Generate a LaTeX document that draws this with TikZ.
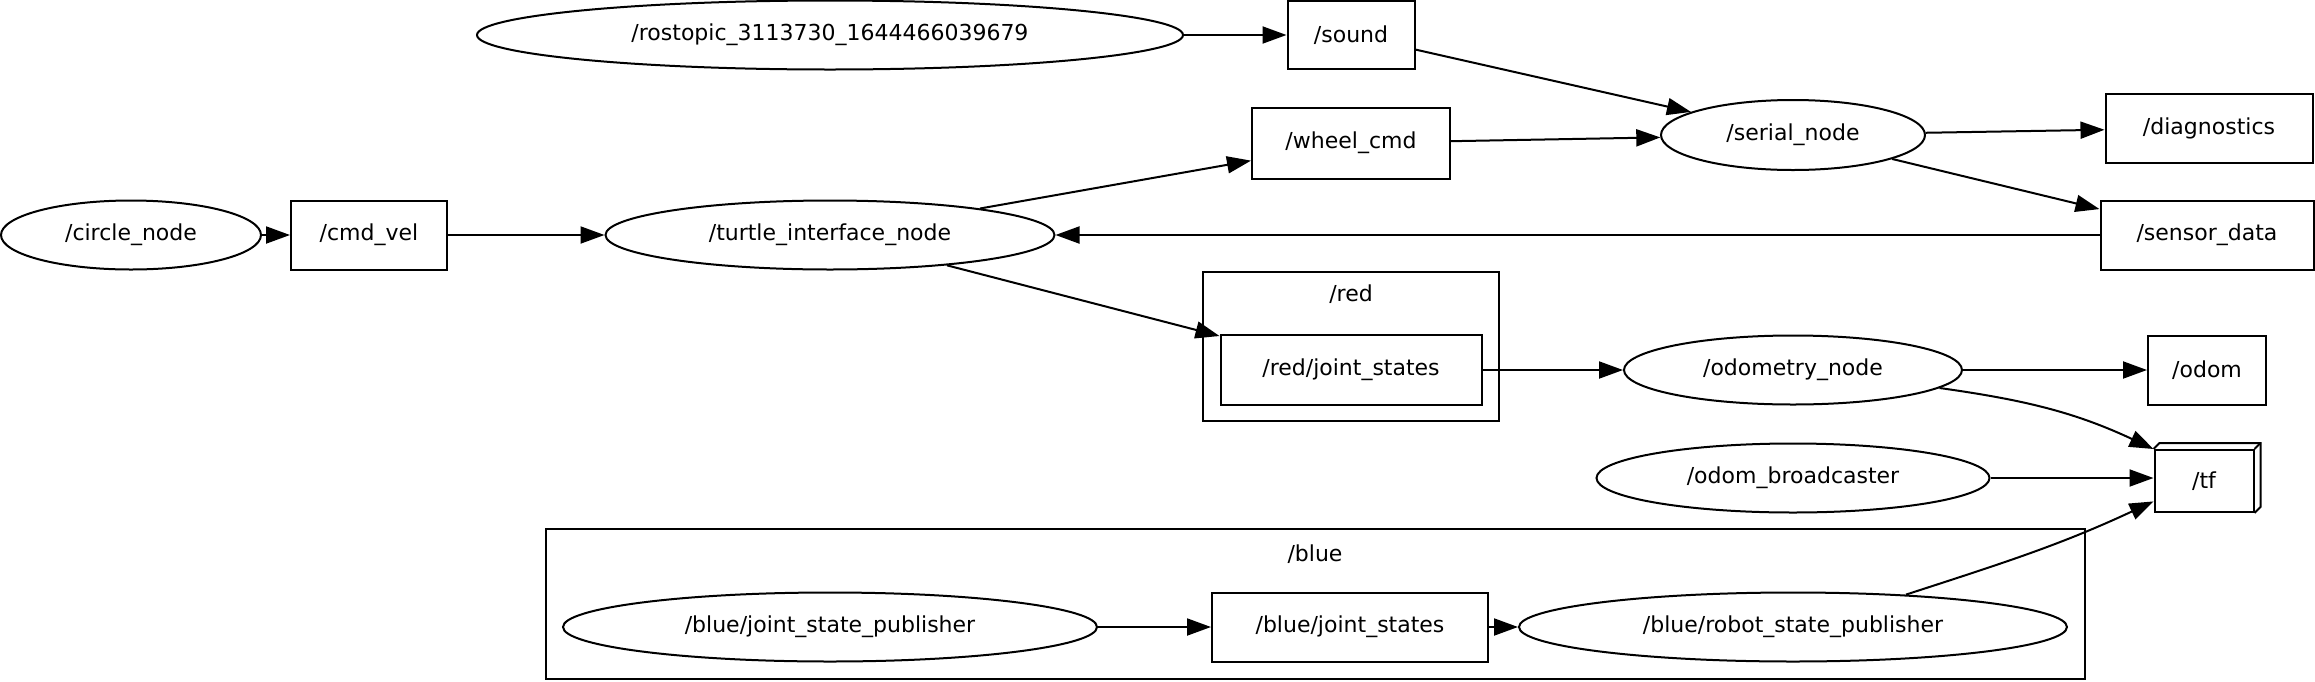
\documentclass[tikz,border=0pt]{standalone}
\usepackage{fontspec}
\setmainfont{DejaVu Sans}
\usetikzlibrary{shapes.geometric,arrows.meta}
\begin{document}
\begin{tikzpicture}[x=0.5pt,y=-0.5pt,line width=1pt,font=\fontsize{11}{13}\selectfont,
        rosnode/.style={draw,ellipse,inner sep=0pt,minimum height=34.5pt},
        topic/.style={draw,rectangle,inner sep=0pt,minimum height=34.5pt},
        link/.style={-{Triangle[length=12pt,width=8.5pt]}}]
        \useasboundingbox (0,0) rectangle (2315,681);
        % clusters
        \draw (1203,272) rectangle (1499,421);
        \node (redlabel) at (1351,294) {/red};
        \draw (546,529) rectangle (2085,679);
        \node (bluelabel) at (1315,554) {/blue};
        % nodes and topics
        \node[rosnode,minimum width=353pt] (rostopic) at (830,35) {/rostopic\_3113730\_1644466039679};
        \node[topic,minimum width=63.5pt,minimum height=34pt] (sound) at (1351,35) {/sound};
        \node[rosnode,minimum width=132pt,minimum height=35pt] (serial) at (1793,135) {/serial\_node};
        \node[topic,minimum width=99pt,minimum height=35.5pt] (wheelcmd) at (1351,143) {/wheel\_cmd};
        \node[topic,minimum width=103.5pt] (diagnostics) at (2209,128) {/diagnostics};
        \node[topic,minimum width=106.5pt] (sensordata) at (2207,235) {/sensor\_data};
        \node[rosnode,minimum width=130pt] (circle) at (131,235) {/circle\_node};
        \node[topic,minimum width=78pt] (cmdvel) at (369,235) {/cmd\_vel};
        \node[rosnode,minimum width=224.5pt] (turtle) at (830,235) {/turtle\_interface\_node};
        \node[topic,minimum width=130.5pt,minimum height=35pt] (redjs) at (1351,370) {/red/joint\_states};
        \node[rosnode,minimum width=169pt] (odometry) at (1793,370) {/odometry\_node};
        \node[topic,minimum width=59pt] (odom) at (2207,370) {/odom};
        \node[rosnode,minimum width=196.5pt] (odombc) at (1793,478) {/odom\_broadcaster};
        \node[topic,minimum width=49.5pt,minimum height=31pt] (tf) at (2204,481) {/tf};
        \draw (tf.north west) -- ++(6,-6) -- ([shift={(6,-6)}]tf.north east) -- ([shift={(6,-6)}]tf.south east) -- (tf.south east);
        \draw (tf.north east) -- ++(6,-6);
        \node[rosnode,minimum width=267pt] (bluejsp) at (830,627) {/blue/joint\_state\_publisher};
        \node[topic,minimum width=138pt] (bluejs) at (1350,627) {/blue/joint\_states};
        \node[rosnode,minimum width=274pt] (bluersp) at (1793,627) {/blue/robot\_state\_publisher};
        % connectors
        \draw[link] (rostopic) -- (sound);
        \draw[link] (sound) -- (serial);
        \draw[link] (serial) -- (diagnostics);
        \draw[link] (serial) -- (sensordata);
        \draw[link] (wheelcmd) -- (serial);
        \draw[link] (turtle) -- (wheelcmd);
        \draw[link] (circle) -- (cmdvel);
        \draw[link] (cmdvel) -- (turtle);
        \draw[link] (sensordata) -- (turtle);
        \draw[link] (turtle) -- (redjs);
        \draw[link] (redjs) -- (odometry);
        \draw[link] (odometry) -- (odom);
        \draw[link] (odometry.-7) to[out=-8,in=155] (tf.north west);
        \draw[link] (odombc.east) -- (odombc.east -| tf.west);
        \draw[link] (bluejsp) -- (bluejs);
        \draw[link] (bluejs) -- (bluersp);
        \draw[link] (bluersp.16) to[out=18,in=-155] (tf.-158);
\end{tikzpicture}
\end{document}
